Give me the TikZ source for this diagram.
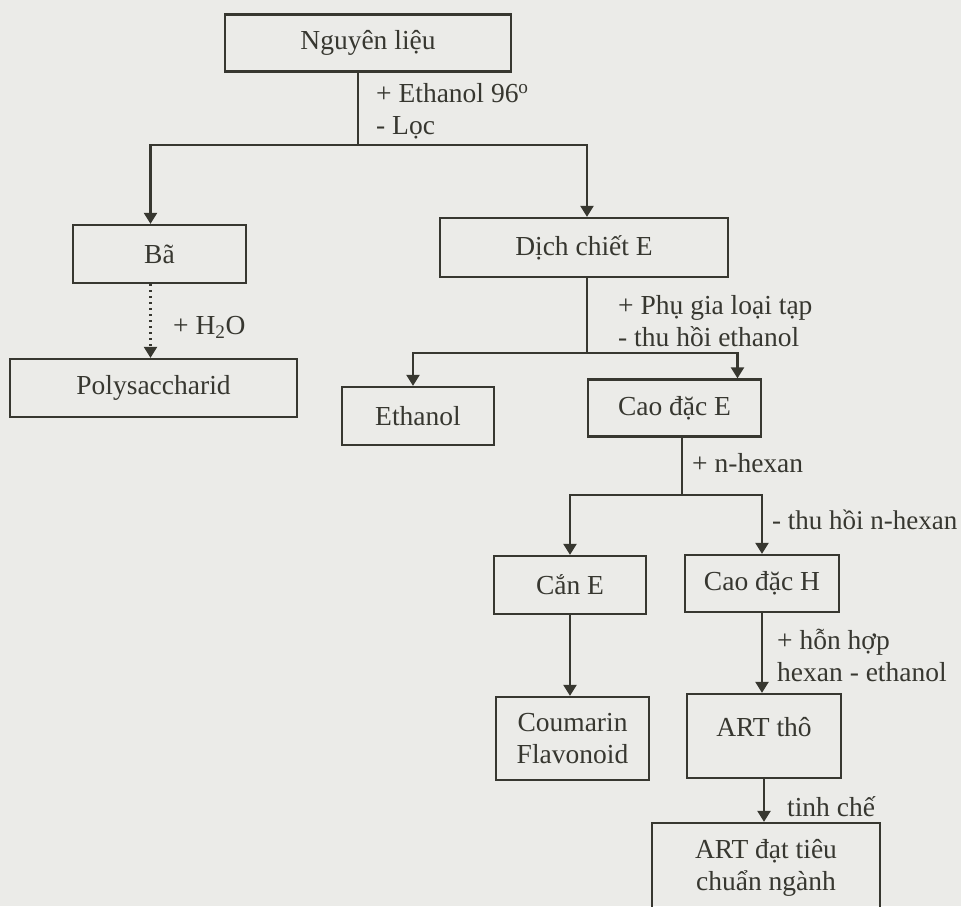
\documentclass[tikz,border=0pt]{standalone}
\usepackage{fontspec}
\setmainfont{Liberation Serif}
\usetikzlibrary{arrows.meta}
\definecolor{paper}{RGB}{235,235,232}
\definecolor{ink}{RGB}{55,55,48}

\begin{document}
\begin{tikzpicture}[x=1pt, y=-1pt,
	every node/.style={font=\fontsize{27.5}{32}\selectfont, text=ink},
	box/.style={draw=ink, line width=2.3pt, inner sep=0pt, align=center},
	lbl/.style={anchor=west, inner sep=0pt, align=left},
	arr/.style={draw=ink, line width=2.3pt, -{Triangle[length=11pt, width=13pt]}},
	link/.style={draw=ink, line width=2.3pt},
	dotarr/.style={arr, dash pattern=on 2pt off 4pt}]
	\fill[paper] (0,0) rectangle (961,906);
	\useasboundingbox (0,0) rectangle (961,906);
	% boxes
	\node[box, minimum width=286, minimum height=57] (nl) at (368,43) {Nguyên liệu};
	\node[box, minimum width=173, minimum height=58] (ba) at (159.5,254) {Bã};
	\node[box, minimum width=288, minimum height=59] (dc) at (584,247.5) {Dịch chiết E};
	\node[box, minimum width=287, minimum height=58] (poly) at (153.5,388) {Polysaccharid};
	\node[box, minimum width=152, minimum height=58] (eth) at (418,416) {Ethanol};
	\node[box, minimum width=173, minimum height=57] (cdE) at (674.5,408) {Cao đặc E};
	\node[box, minimum width=152, minimum height=58] (cE) at (570,585) {Cắn E};
	\node[box, minimum width=154, minimum height=57] (cdH) at (762,583.5) {Cao đặc H};
	\node[box, minimum width=153, minimum height=83] (cf) at (572.5,738.5) {Coumarin\\Flavonoid};
	\node[box, minimum width=154, minimum height=84] (artt) at (764,736) {\raisebox{19pt}{ART thô}};
	\node[box, minimum width=228, minimum height=90] (artd) at (766,868) {ART đạt tiêu\\chuẩn ngành};
	% branch points
	\coordinate (j1) at (358,145);
	\coordinate (j2) at (587,353);
	\coordinate (j3) at (682,495);
	\draw[link] (j1 |- nl.south) -- (j1);
	\draw[arr] (j1) -| ([xshift=-9pt]ba.north);
	\draw[arr] (j1) -| ([xshift=3pt]dc.north);
	\draw[dotarr] ([xshift=-9pt]ba.south) -- ([xshift=-9pt]ba.south |- poly.north);
	\draw[link] (j2 |- dc.south) -- (j2);
	\draw[arr] (j2) -| ([xshift=-5pt]eth.north);
	\draw[arr] (j2) -| ([xshift=63pt]cdE.north);
	\draw[link] (j3 |- cdE.south) -- (j3);
	\draw[arr] (j3) -| (cE.north);
	\draw[arr] (j3) -| (cdH.north);
	\draw[arr] (cE.south) -- (cE.south |- cf.north);
	\draw[arr] (cdH.south) -- (cdH.south |- artt.north);
	\draw[arr] (artt.south) -- (artt.south |- artd.north);
	% labels
	\node[lbl] (l1) at (376,111) {+ Ethanol 96\textsuperscript{o}\\- Lọc};
	\node[lbl] (l2) at (173,327) {+ H\textsubscript{2}O};
	\node[lbl] (l3) at (618,321) {+ Phụ gia loại tạp\\- thu hồi ethanol};
	\node[lbl] (l4) at (692,463) {+ n-hexan};
	\node[lbl, font=\fontsize{27}{32}\selectfont] (l5) at (772,520) {- thu hồi n-hexan};
	\node[lbl] (l6) at (777,655) {+ hỗn hợp\\hexan - ethanol};
	\node[lbl] (l7) at (787,807) {tinh chế};
\end{tikzpicture}
\end{document}
